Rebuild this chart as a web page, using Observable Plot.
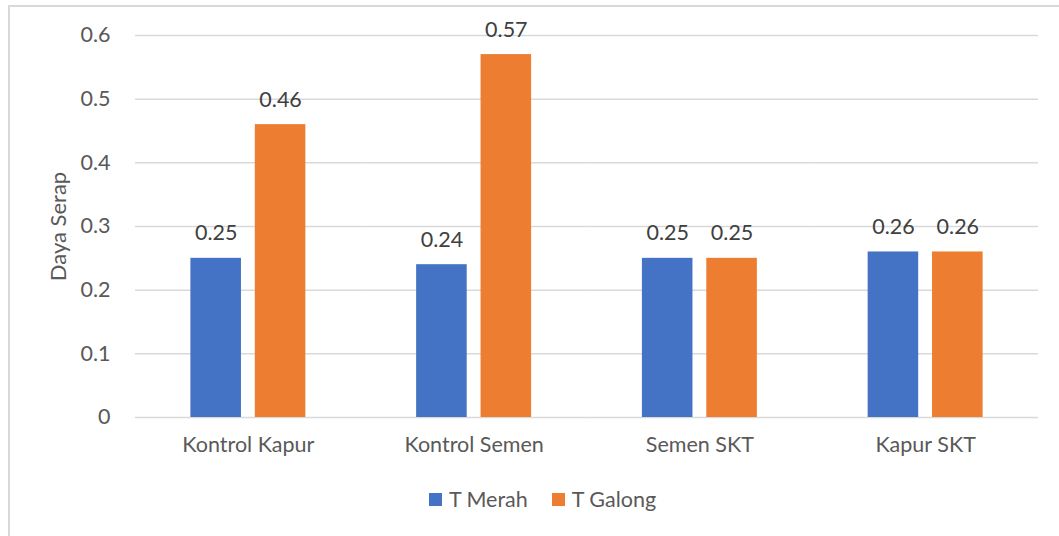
<!DOCTYPE html>
<html>
<head>
<meta charset="utf-8">
<script src="https://cdn.jsdelivr.net/npm/d3@7"></script>
<script src="https://cdn.jsdelivr.net/npm/@observablehq/plot@0.6"></script>
<style>
  body { margin: 0; background: #fff; font-family: Lato, "Open Sans", sans-serif; }
  #wrap { position: relative; width: 1059px; height: 536px; overflow: hidden; background: #fff; }
  #border { position: absolute; left: 8px; top: 5px; width: 1100px; height: 600px;
            border: 2px solid #d9d9d9; box-sizing: border-box; pointer-events: none; }
  #chart { position: absolute; left: 0; top: 0; }
  #chart svg [aria-label="y-axis label"],
  #chart svg [aria-label="y-axis label"] text { font-size: 22px !important; }
  #legend { position: absolute; left: 0; top: 486px; width: 1059px; padding-left: 26px; box-sizing: border-box;
            display: flex; justify-content: center; gap: 24px; font-size: 21.5px; color: #595959; }
  #legend .item { display: flex; align-items: center; gap: 7px; }
  #legend .sw { width: 13px; height: 13px; display: inline-block; }
</style>
</head>
<body>
<div id="wrap">
  <div id="border"></div>
  <div id="chart"></div>
  <div id="legend"></div>
</div>
<script>
// Absorbance ("Daya Serap") for each treatment, two tile types
const categories = ["Kontrol Kapur", "Kontrol Semen", "Semen SKT", "Kapur SKT"];
const seriesNames = ["T Merah", "T Galong"];
const tMerah = [0.25, 0.24, 0.25, 0.26];
const tGalong = [0.46, 0.57, 0.25, 0.26];
const colors = ["#4472C4", "#ED7D31"];
const yTicks = [0, 0.1, 0.2, 0.3, 0.4, 0.5, 0.6];

const rows = categories.flatMap((c, i) => [
  {category: c, series: seriesNames[0], value: tMerah[i]},
  {category: c, series: seriesNames[1], value: tGalong[i]}
]);

const chart = Plot.plot({
  width: 1059,
  height: 470,
  marginLeft: 135,
  marginRight: 21,
  marginTop: 35,
  marginBottom: 53,
  style: {fontFamily: "Lato, 'Open Sans', sans-serif", fontSize: "21.5px", color: "#595959", background: "transparent"},
  fx: {domain: categories, padding: 0, round: false, axis: "bottom", tickSize: 0, tickPadding: 19, label: null},
  x: {domain: seriesNames, paddingInner: 0.215, paddingOuter: 0.86, round: false, axis: null},
  y: {domain: [0, 0.6], ticks: yTicks, tickFormat: d => String(d), tickSize: 0, tickPadding: 25,
      label: "Daya Serap", labelArrow: "none", labelAnchor: "center", labelOffset: 85},
  color: {domain: seriesNames, range: colors},
  marks: [
    Plot.ruleY(yTicks, {stroke: "#d9d9d9", strokeWidth: 1.5}),
    Plot.barY(rows, {fx: "category", x: "series", y: "value", fill: "series", inset: 0}),
    Plot.text(rows, {fx: "category", x: "series", y: "value", text: d => String(d.value),
                     lineAnchor: "bottom", dy: -18, fill: "#404040", fontSize: 21.5})
  ]
});
document.getElementById("chart").appendChild(chart);

// Legend below the plot
const legend = document.getElementById("legend");
seriesNames.forEach((name, i) => {
  const item = document.createElement("span");
  item.className = "item";
  const sw = document.createElement("span");
  sw.className = "sw";
  sw.style.background = colors[i];
  const label = document.createElement("span");
  label.textContent = name;
  item.appendChild(sw);
  item.appendChild(label);
  legend.appendChild(item);
});
</script>
</body>
</html>
